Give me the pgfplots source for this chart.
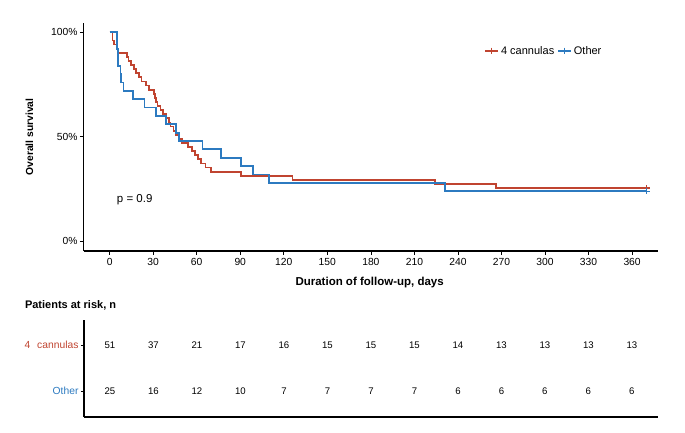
\documentclass[border=0pt]{standalone}
\usepackage{fontspec}
\setmainfont{Liberation Sans}
\usepackage{pgfplots}
\pgfplotsset{compat=1.18}
\definecolor{kmred}{RGB}{192,68,48}
\definecolor{kmblue}{RGB}{44,122,192}
\begin{document}
\begin{tikzpicture}
\useasboundingbox (0pt,0pt) rectangle (685pt,-433pt);
\begin{axis}[at={(83.5pt,-251pt)}, anchor=south west, scale only axis,
  width=574pt, height=228pt,
  xmin=-18, xmax=377.5, ymin=-4.6, ymax=104.4,
  axis x line*=bottom, axis y line*=left,
  axis line style={-, line width=1.1pt},
  xtick={0,30,...,360}, ytick={0,50,100}, yticklabels={0\%,50\%,100\%},
  tick style={black, line width=0.7pt}, tick align=outside, major tick length=3.5pt,
  tick label style={font=\fontsize{10.3}{11}\selectfont},
  yticklabel style={xshift=1pt},
  /pgf/number format/assume math mode=true,
  xlabel={\bfseries Duration of follow-up, days},
  ylabel={\bfseries Overall survival},
  xlabel style={at={(axis description cs:0.4985,-0.14)}, anchor=center, font=\fontsize{11.5}{13}\selectfont},
  ylabel style={at={(axis description cs:-0.094,0.5)}, anchor=center, font=\fontsize{10.3}{12}\selectfont},
  legend style={at={(axis description cs:0.693,0.877)}, anchor=west, draw=none, fill=none,
    font=\fontsize{11}{12}\selectfont, legend columns=2,
    /tikz/every even column/.append style={column sep=1pt}},
  legend cell align=left,
  legend image code/.code={\draw[mark repeat=2, mark phase=2] plot coordinates {(0pt,0pt) (6.5pt,0pt) (13pt,0pt)};},
]
\addlegendimage{kmred, line width=1.6pt, mark=+, mark size=3.3pt, mark options={solid, line width=1.2pt}}
\addlegendentry{4 cannulas}
\addlegendimage{kmblue, line width=1.6pt, mark=+, mark size=3.3pt, mark options={solid, line width=1.2pt}}
\addlegendentry{Other}
\addplot[kmred, line width=1.8pt, const plot, forget plot] coordinates {
(0,100)(2,96.08)(3,94.12)(5,92.16)(6,90.20)(12,88.24)(13,86.27)(15,84.31)(17,82.35)(18,80.39)(20,78.43)(22,76.47)(25,74.51)(27,72.55)(30.5,70.59)(31,68.63)(32,66.67)(33,64.71)(35,62.75)(37,60.78)(39,58.82)(41,56.86)(42,54.90)(44,52.94)(46,50.98)(48,49.02)(50,47.06)(54,45.10)(57,43.14)(59,41.18)(61,39.22)(63,37.25)(66,35.29)(70,33.33)(90.5,31.37)(126,29.41)(224,27.45)(266,25.49)(370,25.49)};
\addplot[kmblue, line width=1.8pt, const plot, forget plot] coordinates {
(0,100)(5,92)(6,84)(7.5,80)(8,76)(9.5,72)(16,68)(24,64)(32,60)(39,56)(46,52)(48,48)(64,44)(77,40)(90.5,36)(99,32)(110,28)(231,24)(370,24)};
\addplot[kmred, only marks, mark=+, mark size=3.3pt, line width=1.2pt, forget plot] coordinates {(370,25.49)};
\addplot[kmblue, only marks, mark=+, mark size=3.3pt, line width=1.2pt, forget plot] coordinates {(370,24)};
\node[anchor=west, font=\fontsize{11.5}{13}\selectfont] at (axis cs:2.6,20.1) {p = 0.9};
\end{axis}
\node[anchor=west, font=\fontsize{11}{12}\selectfont\bfseries] at (21.5pt,-305pt) {Patients at risk, n};
\begin{axis}[at={(84pt,-417pt)}, anchor=south west, scale only axis,
  width=574pt, height=97pt,
  xmin=-17.9, xmax=378, ymin=0.435, ymax=2.543,
  axis x line*=bottom, axis y line*=left,
  axis line style={-, line width=1.1pt},
  xtick=\empty, ytick={1,2},
  yticklabels={\textcolor{kmblue}{Other},\textcolor{kmred}{4\hspace{7pt}cannulas}},
  tick style={black, line width=0.7pt}, tick align=outside, major tick length=3pt,
  tick label style={font=\fontsize{10.3}{11}\selectfont},
  yticklabel style={xshift=1pt},
]
\addplot[only marks, mark=*, mark size=0pt, nodes near coords, point meta=explicit symbolic,
  every node near coord/.append style={anchor=center, black, font=\fontsize{9.6}{10}\selectfont}]
  table[meta=n] {
x y n
0 2 51
30 2 37
60 2 21
90 2 17
120 2 16
150 2 15
180 2 15
210 2 15
240 2 14
270 2 13
300 2 13
330 2 13
360 2 13
};
\addplot[only marks, mark=*, mark size=0pt, nodes near coords, point meta=explicit symbolic,
  every node near coord/.append style={anchor=center, black, font=\fontsize{9.6}{10}\selectfont}]
  table[meta=n] {
x y n
0 1 25
30 1 16
60 1 12
90 1 10
120 1 7
150 1 7
180 1 7
210 1 7
240 1 6
270 1 6
300 1 6
330 1 6
360 1 6
};
\end{axis}
\end{tikzpicture}
\end{document}
